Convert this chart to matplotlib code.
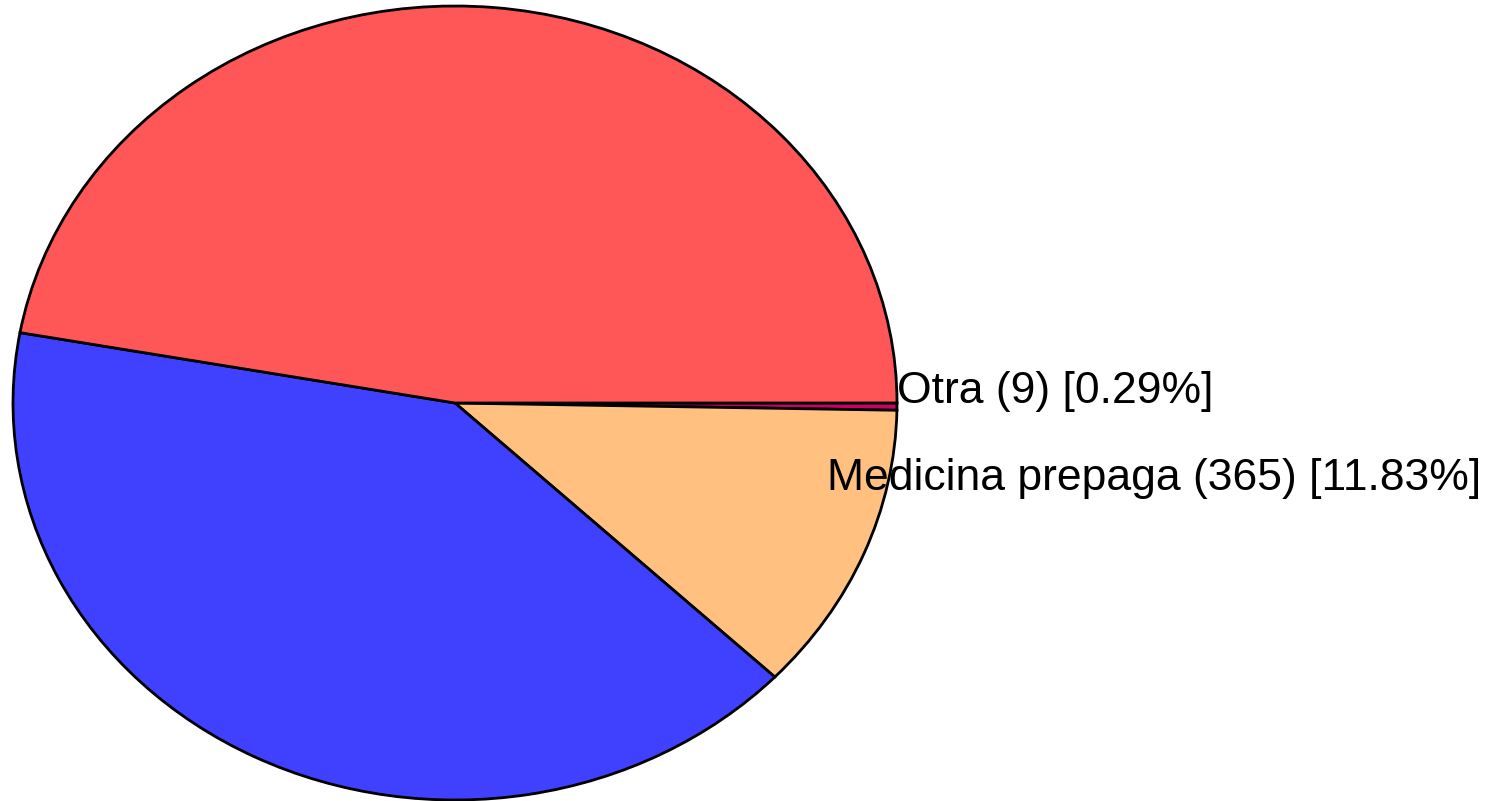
import numpy as np
import matplotlib.pyplot as plt

# Data
categories = ['Otra', 'Medicina prepaga', 'Obra social', 'Ninguna']
counts = [9, 365, 1256, 1455]
colors = ['#cc0066', '#ffc080', '#4040ff', '#ff5757']
show_label = [True, True, False, False]

total = sum(counts)
labels = [f"{c} ({n}) [{n / total * 100:.2f}%]" for c, n in zip(categories, counts)]

fig = plt.figure(figsize=(15.1, 8.01), dpi=100)
ax = fig.add_axes([0, 0, 1, 1])

wedges, _ = ax.pie(counts, colors=colors, startangle=0, counterclock=False,
                   wedgeprops=dict(edgecolor='black', linewidth=2))

# stretch the pie into an ellipse like the original
ax.set_aspect('auto')
ax.set_xlim(-455 / 442, (1510 - 455) / 442)
ax.set_ylim(-398 / 397, (801 - 398) / 397)
ax.axis('off')

# label positions (layout only)
label_pos = {'Otra': (1.0, 0.03), 'Medicina prepaga': (0.842, -0.19)}
for cat, lab, show in zip(categories, labels, show_label):
    if not show:
        continue
    x, y = label_pos[cat]
    ax.text(x, y, lab, ha='left', va='center', fontsize=32,
            family='Liberation Sans', color='black')

fig.savefig('out.png', dpi=100)
